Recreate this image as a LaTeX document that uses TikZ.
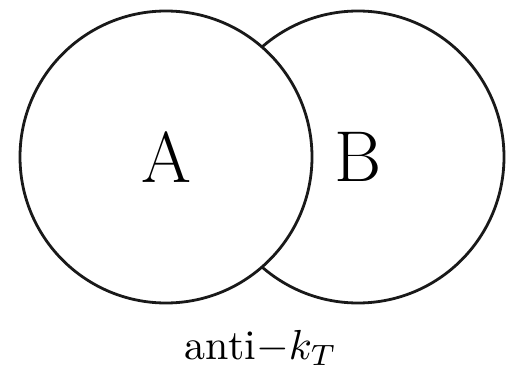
\documentclass[tikz,border=0pt]{standalone}
\begin{document}
\begin{tikzpicture}[x=1pt,y=-1pt,
  ring/.style={circle,draw=black!90,line width=2.8pt,fill=white,minimum size=292pt,inner sep=0pt}]
\useasboundingbox (0,0) rectangle (513,371);
\node[ring] (B) at (358,157) {};
\node[ring] (A) at (166,157) {};
\node[font=\fontsize{72}{80}\selectfont] (la) at (A.center) {A};
\node[font=\fontsize{72}{80}\selectfont] (lb) at (B.center) {B};
\node[anchor=base,inner sep=0pt,scale=4.2,transform shape] (cap) at (261,359) {anti$-k_T$};
\end{tikzpicture}
\end{document}
